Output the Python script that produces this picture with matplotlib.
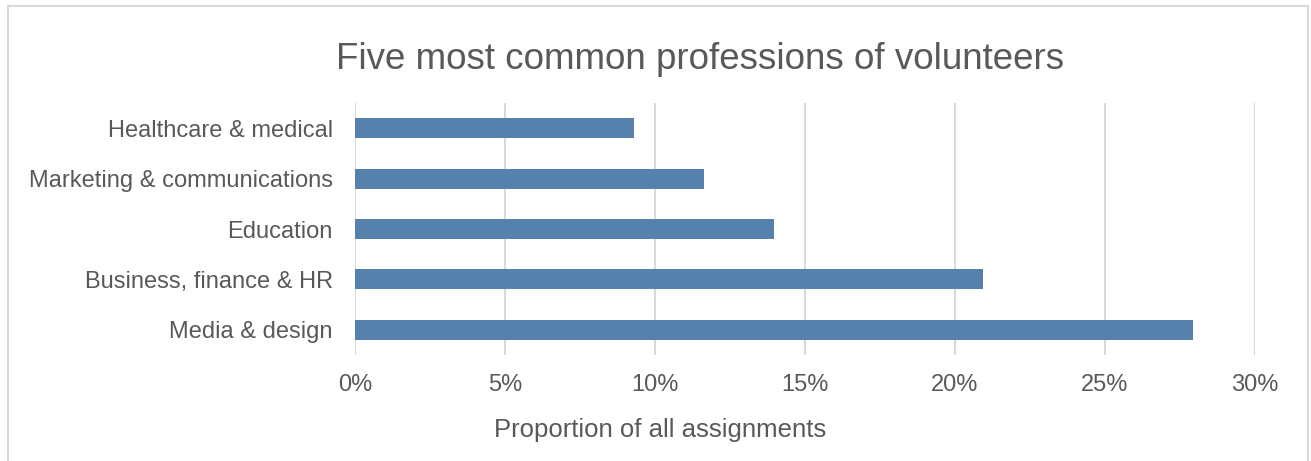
import matplotlib.pyplot as plt
from matplotlib.lines import Line2D
from matplotlib.ticker import PercentFormatter

plt.rcParams['font.family'] = ['Liberation Sans', 'DejaVu Sans']

categories = ["Media & design", "Business, finance & HR", "Education",
              "Marketing & communications", "Healthcare & medical"]
shares = [27.93, 20.93, 13.97, 11.63, 9.3]
xticks = [0, 5, 10, 15, 20, 25, 30]

grey = "#595959"
fig = plt.figure(figsize=(13.11, 4.61), dpi=100)
ax = fig.add_axes([0.2708, 0.2299, 0.6865, 0.5467])

ax.barh(range(len(categories)), shares, height=0.4, color="#5681ad", zorder=3)
ax.set_yticks(range(len(categories)))
ax.set_yticklabels(categories)
ax.set_ylim(-0.5, 4.5)
ax.set_xlim(0, 30)
ax.set_xticks(xticks)
ax.xaxis.set_major_formatter(PercentFormatter(decimals=0))
ax.grid(axis="x", color="#d9d9d9", linewidth=1.5, zorder=0)
ax.tick_params(length=0, labelsize=17, labelcolor=grey)
ax.tick_params(axis="y", pad=16)
ax.tick_params(axis="x", pad=14)
for s in ax.spines.values():
    s.set_visible(False)

fig.text(0.5034, 0.068, "Proportion of all assignments", fontsize=18.5,
         color=grey, ha="center", va="center")
fig.text(0.534, 0.872, "Five most common professions of volunteers", fontsize=26.5,
         color=grey, ha="center", va="center")

# chart frame (bottom edge is cut off)
bx0, bx1, by = 8 / 1311, 1308 / 1311, 1 - 6 / 461
for xs, ys in [([bx0, bx0], [0, by]), ([bx0, bx1], [by, by]), ([bx1, bx1], [by, 0])]:
    fig.add_artist(Line2D(xs, ys, color="#d9d9d9", linewidth=1.5))

fig.savefig("out.png", dpi=100)
